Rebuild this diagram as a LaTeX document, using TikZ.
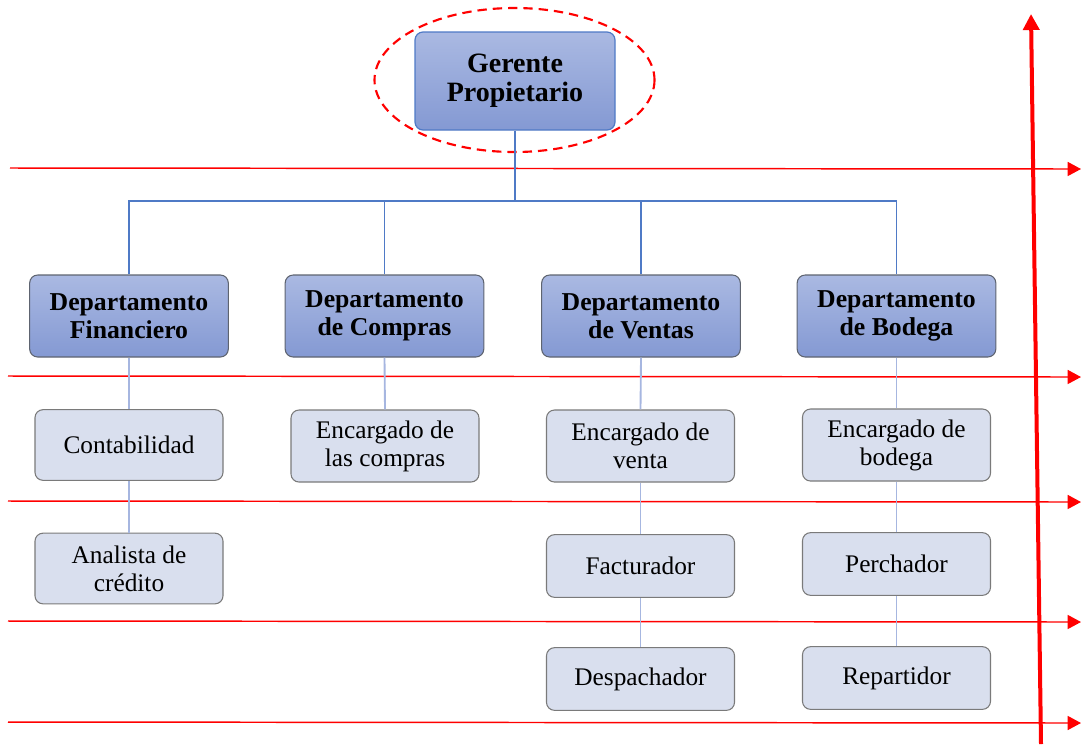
\documentclass[tikz,border=0pt]{standalone}
\usepackage{fontspec}
\setmainfont{Liberation Serif}
\usetikzlibrary{arrows.meta,shapes.geometric}
\definecolor{gtop}{HTML}{AAB9E2}
\definecolor{gbot}{HTML}{8499D3}
\definecolor{lightfill}{HTML}{D9DFEE}
\definecolor{boxgray}{HTML}{7A7A7A}
\definecolor{deptborder}{HTML}{5E6470}
\definecolor{topline}{HTML}{4F7AC6}
\definecolor{lowline}{HTML}{A6B6E0}
\definecolor{redarrow}{HTML}{FF0000}
\tikzset{
  boss/.style={rectangle, rounded corners=6pt, top color=gtop, bottom color=gbot, draw=topline, line width=0.9pt, align=center, font=\bfseries\fontsize{21}{22}\selectfont, inner sep=0pt},
  dept/.style={rectangle, rounded corners=6pt, top color=gtop, bottom color=gbot, draw=deptborder, line width=0.8pt, align=center, font=\bfseries\fontsize{19.3}{21}\selectfont, minimum width=149pt, minimum height=61.5pt, inner sep=0pt},
  role/.style={rectangle, rounded corners=6pt, fill=lightfill, draw=boxgray, line width=0.8pt, align=center, font=\fontsize{19}{21}\selectfont, minimum width=141pt, inner sep=0pt},
  topconn/.style={draw=topline, line width=1.4pt},
  lowconn/.style={draw=lowline, line width=1.4pt},
  levelarrow/.style={draw=redarrow, line width=1.1pt, -{Triangle[length=10pt,width=10.5pt]}},
  axisarrow/.style={draw=redarrow, line width=3pt, -{Triangle[length=12pt,width=12pt]}},
  ring/.style={draw=redarrow, dashed, dash pattern=on 7pt off 4.5pt, line width=1.6pt}
}
\begin{document}
\begin{tikzpicture}[x=0.75pt,y=-0.75pt]
\useasboundingbox (0,0) rectangle (1081,744);
% level arrows
\coordinate (l1s) at (10,168); \coordinate (l1e) at (1081,169);
\coordinate (l2s) at (8,376); \coordinate (l2e) at (1081,377);
\coordinate (l3s) at (8,501); \coordinate (l3e) at (1081,502);
\coordinate (l4s) at (8,621); \coordinate (l4e) at (1081,622);
\coordinate (l5s) at (8,722); \coordinate (l5e) at (1081,723);
\foreach \i in {1,...,5} { \draw[levelarrow] (l\i s) -- (l\i e); }
% vertical axis arrow
\coordinate (vs) at (1041,744); \coordinate (ve) at (1031,14);
\draw[axisarrow] (vs) -- (ve);

% boss
\node[boss, minimum width=150pt, minimum height=73.5pt] (g) at (515,81) {Gerente\\Propietario};
\draw[ring] (514.5,80) ellipse [x radius=140, y radius=72];

% departments
\node[dept] (d1) at (129,316) {Departamento\\Financiero};
\node[dept] (d2) at (384.5,316) {Departamento\\de Compras};
\node[dept] (d3) at (641,316) {Departamento\\de Ventas};
\node[dept] (d4) at (896.5,316) {Departamento\\de Bodega};

% roles
\node[role, minimum height=53pt] (c1) at (129,445) {Contabilidad};
\node[role, minimum height=53pt] (a1) at (129,568.5) {Analista de\\crédito};
\node[role, minimum height=54pt] (e2) at (385,446) {Encargado de\\las compras};
\node[role, minimum height=54pt] (e3) at (640.5,446) {Encargado de\\venta};
\node[role, minimum height=47pt] (f3) at (640.5,566) {Facturador};
\node[role, minimum height=47pt] (p3) at (640.5,679) {Despachador};
\node[role, minimum height=54pt] (e4) at (896.5,445) {Encargado de\\bodega};
\node[role, minimum height=47pt] (f4) at (896.5,564) {Perchador};
\node[role, minimum height=47pt] (p4) at (896.5,678) {Repartidor};

% top connectors
\coordinate (bus) at (515,201);
\draw[topconn] (g.south) -- (bus);
\draw[topconn] (d1.north) |- (bus);
\draw[topconn] (d2.north) |- (bus);
\draw[topconn] (d3.north) |- (bus);
\draw[topconn] (d4.north) |- (bus);

% lower connectors
\draw[lowconn] (d1.south) -- (c1.north);
\draw[lowconn] (c1.south) -- (a1.north);
\draw[lowconn] (d2.south) -- (e2.north);
\draw[lowconn] (d3.south) -- (e3.north);
\draw[lowconn] (e3.south) -- (f3.north);
\draw[lowconn] (f3.south) -- (p3.north);
\draw[lowconn] (d4.south) -- (e4.north);
\draw[lowconn] (e4.south) -- (f4.north);
\draw[lowconn] (f4.south) -- (p4.north);
\end{tikzpicture}
\end{document}
